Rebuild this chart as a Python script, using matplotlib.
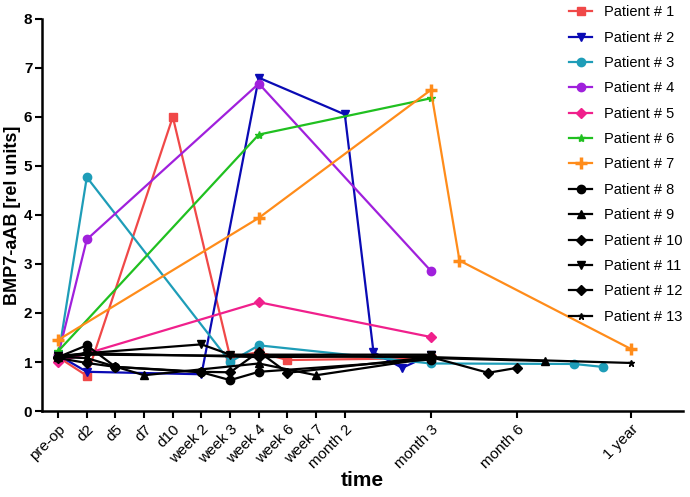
import numpy as np
import matplotlib.pyplot as plt

plt.rcParams['font.family'] = ['Liberation Sans', 'DejaVu Sans']

# time axis: positions of the labelled time points
tick_pos = [0, 1, 2, 3, 4, 5, 6, 7, 8, 9, 10, 13, 16, 20]
tick_labels = ['pre-op', 'd2', 'd5', 'd7', 'd10', 'week 2', 'week 3', 'week 4',
               'week 6', 'week 7', 'month 2', 'month 3', 'month 6', '1 year']

# patient data (x = time position, y = BMP7-aAB)
p1_x = [0, 1, 4, 6, 7, 8, 13]
p1_y = [1.1, 0.72, 6.0, 1.1, 1.2, 1.04, 1.08]
p2_x = [0, 1, 5, 7, 10, 11, 12, 13]
p2_y = [1.14, 0.8, 0.75, 6.8, 6.05, 1.2, 0.88, 1.15]
p3_x = [0, 1, 6, 7, 13, 18, 19]
p3_y = [1.1, 4.77, 1.0, 1.34, 0.97, 0.96, 0.9]
p4_x = [0, 1, 7, 13]
p4_y = [1.14, 3.5, 6.68, 2.86]
p5_x = [0, 7, 13]
p5_y = [1.0, 2.22, 1.51]
p6_x = [0, 7, 13]
p6_y = [1.22, 5.64, 6.38]
p7_x = [0, 7, 13, 14, 20]
p7_y = [1.45, 3.94, 6.55, 3.07, 1.26]
p8_x = [0, 1, 2, 5, 6, 7, 13]
p8_y = [1.1, 1.34, 0.9, 0.79, 0.63, 0.8, 1.05]
p9_x = [0, 1, 3, 7, 9, 13, 17]
p9_y = [1.1, 1.08, 0.73, 0.97, 0.73, 1.08, 1.02]
p10_x = [0, 1, 2, 5, 6, 7, 8, 13, 15, 16]
p10_y = [1.08, 0.98, 0.9, 0.8, 0.79, 1.21, 0.78, 1.1, 0.78, 0.88]
p11_x = [0, 1, 5, 6, 13]
p11_y = [1.12, 1.18, 1.36, 1.15, 1.15]
p12_x = [0, 1, 7, 13]
p12_y = [1.1, 1.18, 1.1, 1.12]
p13_x = [0, 1, 13, 20]
p13_y = [1.1, 1.15, 1.1, 0.98]

series = [
    (p1_x, p1_y, '#f04848', 's', 6),
    (p2_x, p2_y, '#0a0ab4', 'v', 6),
    (p3_x, p3_y, '#1e9db8', 'o', 6),
    (p4_x, p4_y, '#a020dc', 'o', 6),
    (p5_x, p5_y, '#f0208c', 'D', 5),
    (p6_x, p6_y, '#20c020', '*', 6),
    (p7_x, p7_y, '#ff8c1a', 'P', 8),
    (p8_x, p8_y, 'black', 'o', 6),
    (p9_x, p9_y, 'black', '^', 6),
    (p10_x, p10_y, 'black', 'D', 5),
    (p11_x, p11_y, 'black', 'v', 6),
    (p12_x, p12_y, 'black', 'D', 5),
    (p13_x, p13_y, 'black', '*', 5),
]

fig = plt.figure(figsize=(6.9, 4.97), dpi=100)
ax = fig.add_axes([0.061, 0.173, 0.929, 0.789])

handles = []
for i, (xs, ys, col, mk, ms) in enumerate(series):
    if mk == 'P':
        ln, = ax.plot(xs, ys, color=col, marker='+', markersize=9, mew=2.5, lw=1.6)
    else:
        ln, = ax.plot(xs, ys, color=col, marker=mk, markersize=ms, lw=1.6)
    ln.set_label('Patient # %d' % (i + 1))
    handles.append(ln)

ax.set_xlim(-0.56, 21.8)
ax.set_ylim(0, 8)
ax.set_xticks(tick_pos)
ax.set_xticklabels(tick_labels, rotation=45, ha='right', rotation_mode='anchor', fontsize=11)
ax.set_yticks(range(0, 9))
ax.tick_params(axis='y', labelsize=11, width=1.5, length=5, pad=2)
ax.tick_params(axis='x', width=1.5, length=5, pad=3)
for lbl in ax.get_yticklabels():
    lbl.set_fontweight('bold')
for s in ['top', 'right']:
    ax.spines[s].set_visible(False)
for s in ['left', 'bottom']:
    ax.spines[s].set_linewidth(1.8)

ax.set_ylabel('BMP7-aAB [rel units]', fontsize=13, fontweight='bold', labelpad=2)
ax.set_xlabel('time', fontsize=15, fontweight='bold', labelpad=0)

fig.legend(handles=handles, loc='upper left', bbox_to_anchor=(0.81, 1.01),
           frameon=False, fontsize=10.5, handlelength=1.6, labelspacing=0.78,
           handletextpad=0.8, borderaxespad=0.3)

fig.savefig('out.png', dpi=100)
